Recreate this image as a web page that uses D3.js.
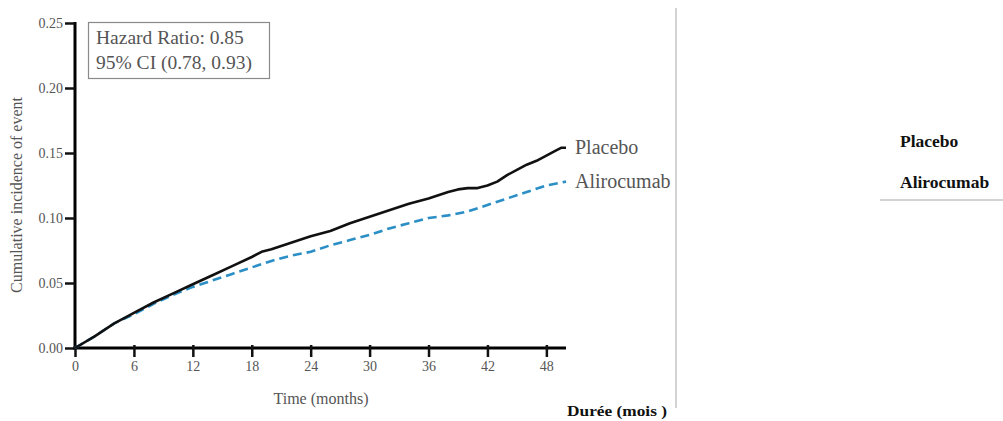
<!DOCTYPE html>
<html>
<head>
<meta charset="utf-8">
<script src="https://cdn.jsdelivr.net/npm/d3@7"></script>
<style>
  html, body { margin: 0; padding: 0; background: #fff; }
  svg { display: block; }
</style>
</head>
<body>
<svg id="chart" width="1003" height="421"></svg>
<script>
// ---- Data ----
const xTicks = [0, 6, 12, 18, 24, 30, 36, 42, 48];
const yTicks = [0, 0.05, 0.10, 0.15, 0.20, 0.25];

const placeboMonths = [0, 2, 4, 6, 8, 10, 12, 14, 16, 18, 19, 20, 22, 24, 26, 28, 30, 32, 34, 36, 38, 39, 40, 41, 42, 43, 44, 45, 46, 47, 48, 49, 49.5, 50];
const placeboValues = [0, 0.009, 0.019, 0.027, 0.035, 0.042, 0.049, 0.056, 0.063, 0.070, 0.074, 0.076, 0.081, 0.086, 0.090, 0.096, 0.101, 0.106, 0.111, 0.115, 0.120, 0.122, 0.123, 0.123, 0.125, 0.128, 0.133, 0.137, 0.141, 0.144, 0.148, 0.152, 0.154, 0.154];

const aliroMonths = [0, 2, 4, 6, 8, 10, 12, 14, 16, 18, 20, 22, 24, 26, 28, 30, 32, 34, 36, 38, 40, 42, 44, 46, 48, 50];
const aliroValues = [0, 0.009, 0.019, 0.026, 0.034, 0.041, 0.047, 0.052, 0.057, 0.062, 0.067, 0.071, 0.074, 0.079, 0.083, 0.087, 0.092, 0.096, 0.100, 0.102, 0.105, 0.110, 0.115, 0.120, 0.125, 0.128];

const seriesNames = ["Placebo", "Alirocumab"];
const hrLines = ["Hazard Ratio: 0.85", "95% CI (0.78, 0.93)"];
const xLabel = "Time (months)";
const yLabel = "Cumulative incidence of event";
const frLabel = "Durée (mois )";

// ---- Layout ----
const svg = d3.select("#chart");
const serif = "'Liberation Serif', 'Times New Roman', serif";
const grey = "#555";

const x = d3.scaleLinear().domain([0, 50]).range([75, 566]);
const y = d3.scaleLinear().domain([0, 0.25]).range([348, 23]);

// Y axis
const yAxis = d3.axisLeft(y).tickValues(yTicks).tickFormat(d3.format(".2f")).tickSize(10).tickPadding(2);
const gy = svg.append("g").attr("transform", `translate(${x(0)},0)`).call(yAxis);
gy.select(".domain").attr("stroke", "#000").attr("stroke-width", 3).attr("d", `M0,${y(0)+1.5}V${y(0.25)-1}`);
gy.selectAll(".tick line").attr("stroke", "#111").attr("stroke-width", 2.5);
gy.selectAll(".tick text").attr("font-family", serif).attr("font-size", 14).attr("fill", grey);

// X axis
const xAxis = d3.axisBottom(x).tickValues(xTicks).tickSize(9).tickPadding(4);
const gx = svg.append("g").attr("transform", `translate(0,${y(0)})`).call(xAxis);
gx.select(".domain").attr("stroke", "#000").attr("stroke-width", 3).attr("d", `M${x(0)-1.5},0H${x(50)}`);
gx.selectAll(".tick line").attr("stroke", "#111").attr("stroke-width", 2.5).attr("y1", -3);
gx.selectAll(".tick text").attr("font-family", serif).attr("font-size", 14).attr("fill", grey);

// Axis labels
svg.append("text").attr("x", 321).attr("y", 404).attr("text-anchor", "middle")
  .attr("font-family", serif).attr("font-size", 16).attr("fill", grey).text(xLabel);
svg.append("text").attr("transform", "translate(22,195) rotate(-90)").attr("text-anchor", "middle")
  .attr("font-family", serif).attr("font-size", 16).attr("fill", grey).text(yLabel);

// Lines
const line = d3.line().x(d => x(d[0])).y(d => y(d[1]));
const aliroData = aliroMonths.map((m, i) => [m, aliroValues[i]]);
const placeboData = placeboMonths.map((m, i) => [m, placeboValues[i]]);

svg.append("path").datum(aliroData).attr("d", line)
  .attr("fill", "none").attr("stroke", "#2b8fc6").attr("stroke-width", 2.6)
  .attr("stroke-dasharray", "9,5");
svg.append("path").datum(placeboData).attr("d", line)
  .attr("fill", "none").attr("stroke", "#111").attr("stroke-width", 2.6)
  .attr("stroke-linejoin", "round");

// Series labels at line ends
const ends = [placeboData[placeboData.length - 1], aliroData[aliroData.length - 1]];
seriesNames.forEach((n, i) => {
  svg.append("text").attr("x", x(50) + 9).attr("y", y(ends[i][1]) + 6)
    .attr("font-family", serif).attr("font-size", 20).attr("fill", grey).text(n);
});

// Hazard ratio box
svg.append("rect").attr("x", 88.5).attr("y", 22.5).attr("width", 181).attr("height", 56)
  .attr("fill", "#fff").attr("stroke", "#8a8a8a").attr("stroke-width", 1.2);
hrLines.forEach((t, i) => {
  svg.append("text").attr("x", 96).attr("y", 44 + i * 24.5)
    .attr("font-family", serif).attr("font-size", 19.5).attr("fill", grey).text(t);
});

// Right panel decorations
svg.append("line").attr("x1", 676).attr("x2", 676).attr("y1", 8).attr("y2", 408)
  .attr("stroke", "#c8c8c8").attr("stroke-width", 1.6);
svg.append("line").attr("x1", 880).attr("x2", 1003).attr("y1", 200).attr("y2", 200)
  .attr("stroke", "#c4c4c4").attr("stroke-width", 1.6);
seriesNames.forEach((n, i) => {
  svg.append("text").attr("x", 900).attr("y", 147 + i * 41)
    .attr("font-family", serif).attr("font-weight", "bold").attr("font-size", 17.5)
    .attr("fill", "#111").text(n);
});

// French label at the bottom
svg.append("text").attr("x", 567).attr("y", 416)
  .attr("font-family", serif).attr("font-weight", "bold").attr("font-size", 15)
  .attr("textLength", 100).attr("lengthAdjust", "spacingAndGlyphs")
  .attr("fill", "#111").text(frLabel);
</script>
</body>
</html>
